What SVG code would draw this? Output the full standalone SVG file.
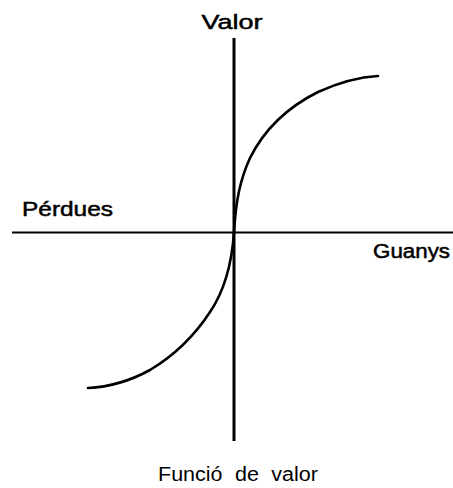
<svg xmlns="http://www.w3.org/2000/svg" width="453" height="488" viewBox="0 0 453 488">
<style>
.t{font-family:"Liberation Sans",Arial,sans-serif;fill:#000}
.b{stroke:#000;stroke-width:0.5}
.ax{stroke:#000;fill:none}
.cv{stroke:#000;fill:none;stroke-width:2.6;stroke-linecap:round}
</style>
<rect width="453" height="488" fill="#fff"/>
<g id="connectors">
<line id="x-axis" class="ax" x1="12" y1="232.5" x2="453" y2="232.5" stroke-width="2"/>
<line id="y-axis" class="ax" x1="234" y1="38" x2="234" y2="441" stroke-width="3"/>
<path id="gain-curve" class="cv" d="M234,232 C236,200 240,180 250,158 C265,128 290,106 318,92 C340,82 360,77 378,76"/>
<path id="loss-curve" class="cv" d="M234,232 C232,262 225,290 210,312 C195,335 175,355 150,370 C130,381 108,387 88,388"/>
</g>
<g id="label-valor"><text class="t b" x="232" y="29" font-size="21" text-anchor="middle" textLength="61" lengthAdjust="spacingAndGlyphs">Valor</text></g>
<g id="label-perdues"><text class="t b" x="22" y="216" font-size="20" textLength="91" lengthAdjust="spacingAndGlyphs">Pérdues</text></g>
<g id="label-guanys"><text class="t b" x="373" y="258" font-size="20" textLength="77" lengthAdjust="spacingAndGlyphs">Guanys</text></g>
<g id="caption"><text class="t" x="158" y="481" font-size="20" word-spacing="6" textLength="160" lengthAdjust="spacingAndGlyphs">Funció de valor</text></g>
</svg>
